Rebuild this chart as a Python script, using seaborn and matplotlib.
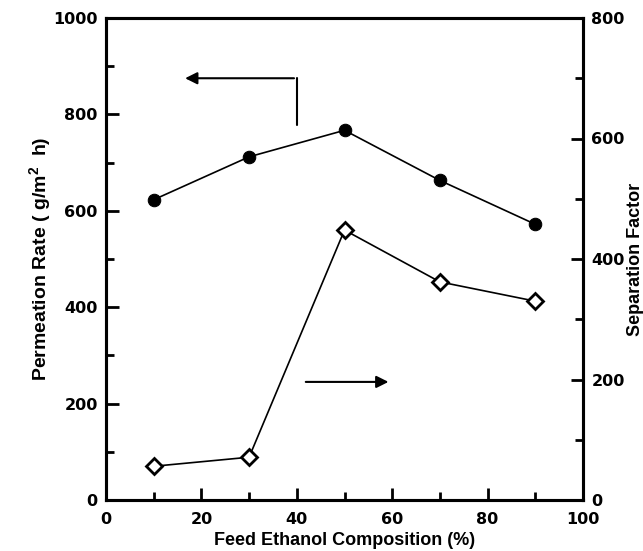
import matplotlib
matplotlib.use("Agg")
import matplotlib.pyplot as plt
from matplotlib.ticker import MultipleLocator
import pandas as pd
import seaborn as sns

# Pervaporation results versus feed ethanol content
feed_ethanol = [10, 30, 50, 70, 90]
permeation_rate = [623, 712, 767, 663, 572]
separation_factor = [56, 71, 448, 362, 330]

sns.set_theme(style="white")
plt.rcParams["font.family"] = ["Liberation Sans", "DejaVu Sans"]
plt.rcParams["font.weight"] = "bold"
plt.rcParams["mathtext.fontset"] = "custom"
plt.rcParams["mathtext.bf"] = "Liberation Sans:bold"
plt.rcParams["mathtext.rm"] = "Liberation Sans:bold"
for key in ("text.color", "axes.labelcolor", "xtick.color", "ytick.color", "axes.edgecolor"):
    plt.rcParams[key] = "black"

df = pd.DataFrame({"feed": feed_ethanol, "flux": permeation_rate, "alpha": separation_factor})

fig = plt.figure(figsize=(6.43, 5.51), dpi=100)
ax = fig.add_axes([106 / 643, 51 / 551, 477 / 643, 482 / 551])
ax2 = ax.twinx()

sns.lineplot(data=df, x="feed", y="flux", ax=ax, color="black", linewidth=1.2,
             marker="o", markersize=9, markerfacecolor="black", markeredgecolor="black")
sns.lineplot(data=df, x="feed", y="alpha", ax=ax2, color="black", linewidth=1.2,
             marker="D", markersize=8, markerfacecolor="white", markeredgecolor="black",
             markeredgewidth=2)

ax.set_xlim(0, 100)
ax.set_ylim(0, 1000)
ax2.set_ylim(0, 800)

ax.xaxis.set_major_locator(MultipleLocator(20))
ax.xaxis.set_minor_locator(MultipleLocator(10))
ax.yaxis.set_major_locator(MultipleLocator(200))
ax.yaxis.set_minor_locator(MultipleLocator(100))
ax2.yaxis.set_major_locator(MultipleLocator(200))
ax2.yaxis.set_minor_locator(MultipleLocator(100))

tick_font = {"family": "DejaVu Sans", "weight": "bold", "size": 11.5}
for a in (ax, ax2):
    for s in a.spines.values():
        s.set_linewidth(2.2)
        s.set_color("black")
    a.tick_params(which="major", direction="in", length=9, width=2, pad=6, colors="black")
    a.tick_params(which="minor", direction="in", length=6, width=2)
ax.tick_params(axis="y", which="both", left=True, right=False)
ax.tick_params(axis="x", which="both", bottom=True, top=False, pad=9)
ax2.tick_params(axis="y", which="both", right=True, left=False)
for lbl in ax.get_xticklabels() + ax.get_yticklabels() + ax2.get_yticklabels():
    lbl.set_fontproperties(tick_font)

ax.set_xlabel("Feed Ethanol Composition (%)", fontsize=13, fontweight="bold", labelpad=3)
ax.set_ylabel(r"Permeation Rate ( g/m$^{\mathbf{2}}$  h)", fontsize=14, fontweight="bold")
ax2.set_ylabel("Separation Factor", fontsize=13, fontweight="bold")
ax.yaxis.set_label_coords(-0.11, 0.5)
ax2.yaxis.set_label_coords(1.093, 0.5)

# Arrows pointing each series to its axis
ax.annotate("", xy=(16, 875), xytext=(40, 875),
            arrowprops=dict(arrowstyle="-|>", color="black", lw=1.5, mutation_scale=18))
ax.plot([40, 40], [875, 778], color="black", lw=1.5)
ax.annotate("", xy=(59.8, 245), xytext=(41.3, 245),
            arrowprops=dict(arrowstyle="-|>", color="black", lw=1.5, mutation_scale=18))

fig.savefig("out.png", dpi=100)
